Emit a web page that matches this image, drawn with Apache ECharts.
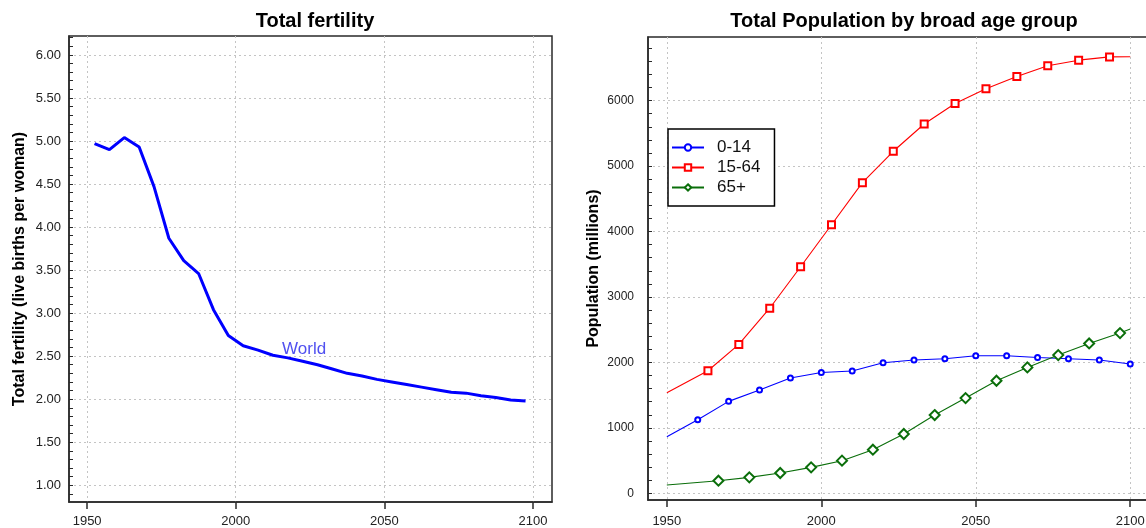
<!DOCTYPE html>
<html><head><meta charset="utf-8">
<script src="https://cdn.jsdelivr.net/npm/echarts@6/dist/echarts.min.js"></script>
<style>html,body{margin:0;padding:0;background:#fff}#c{width:1146px;height:528px}</style>
</head><body><div id="c"></div>
<script>
// ---- data ----
const fertYears = [1952.5,1957.5,1962.5,1967.5,1972.5,1977.5,1982.5,1987.5,1992.5,1997.5,
  2002.5,2007.5,2012.5,2017.5,2022.5,2027.5,2032.5,2037.5,2042.5,2047.5,
  2052.5,2057.5,2062.5,2067.5,2072.5,2077.5,2082.5,2087.5,2092.5,2097.5];
const fertValues = [4.97,4.90,5.04,4.93,4.47,3.87,3.61,3.46,3.04,2.74,
  2.62,2.57,2.51,2.48,2.44,2.40,2.35,2.30,2.27,2.23,
  2.20,2.17,2.14,2.11,2.08,2.07,2.04,2.02,1.99,1.98];
const fertLabel = {text: 'World', year: 2023, value: 2.58};

const youngYears = [1950,1960,1970,1980,1990,2000,2010,2020,2030,2040,2050,2060,2070,2080,2090,2100];
const youngValues = [865,1125,1405,1578,1761,1847,1868,1995,2036,2056,2102,2102,2076,2056,2036,1975];
const workingYears = [1950,1963.3,1973.3,1983.3,1993.3,2003.3,2013.3,2023.3,2033.3,2043.3,2053.3,2063.3,2073.3,2083.3,2093.3,2100];
const workingValues = [1537,1873,2275,2828,3462,4103,4746,5226,5643,5955,6181,6367,6533,6618,6668,6670];
const oldYears = [1950,1966.7,1976.7,1986.7,1996.7,2006.7,2016.7,2026.7,2036.7,2046.7,2056.7,2066.7,2076.7,2086.7,2096.7,2100];
const oldValues = [127,193,244,310,397,499,667,906,1196,1455,1720,1924,2112,2290,2448,2509];

const ageGroups = ['0-14','15-64','65+'];
const yearTicks = [1950,2000,2050,2100];
const fertTicks = [1.0,1.5,2.0,2.5,3.0,3.5,4.0,4.5,5.0,5.5,6.0];
const popTicks = [0,1000,2000,3000,4000,5000,6000];

// ---- helpers ----
function pairs(xs, ys, hideFirst, hideLast) {
  return xs.map((x, i) => {
    const it = {value: [x, ys[i]]};
    if ((hideFirst && i === 0) || (hideLast && i === xs.length - 1)) it.symbol = 'none';
    return it;
  });
}
const fertMinor = []; for (let k = 9; k <= 62; k++) fertMinor.push(k / 10);
const popMinor = []; for (let k = 0; k <= 34; k++) popMinor.push(k * 200);

const gridLine = {show: true, lineStyle: {color: '#c4c4c4', type: [2, 3], width: 1}};
const frameColor = '#2a2a2a';
const tickFont = 'Liberation Sans, Arial, sans-serif';

function xAxisFor(gi) {
  return {
    type: 'value', gridIndex: gi, min: 1943.9, max: 2106.4, position: 'bottom',
    axisLine: {show: true, onZero: false, lineStyle: {color: frameColor, width: 1.5}},
    axisTick: {show: true, customValues: yearTicks, length: 7, inside: false, lineStyle: {color: frameColor, width: 1.5}},
    axisLabel: {customValues: yearTicks, formatter: v => String(Math.round(v)), margin: gi === 0 ? 13 : 15,
                color: '#222', fontSize: 13, fontFamily: tickFont},
    splitLine: gridLine
  };
}

const chart = echarts.init(document.getElementById('c'), null, {renderer: 'canvas'});
chart.setOption({
  animation: false,
  backgroundColor: '#fff',
  title: [
    {text: 'Total fertility', left: 310, top: 6, textAlign: 'center',
     textStyle: {fontSize: 20, fontWeight: 'bold', color: '#000', fontFamily: tickFont}},
    {text: 'Total Population by broad age group', left: 899, top: 6, textAlign: 'center',
     textStyle: {fontSize: 20, fontWeight: 'bold', color: '#000', fontFamily: tickFont}}
  ],
  grid: [
    {left: 69, top: 36, width: 483, height: 466, show: true, borderColor: frameColor, borderWidth: 1.5,
     containLabel: false, outerBoundsMode: 'none'},
    {left: 648, top: 37, width: 502, height: 463, show: true, borderColor: frameColor, borderWidth: 1.5,
     containLabel: false, outerBoundsMode: 'none'}
  ],
  xAxis: [xAxisFor(0), xAxisFor(1)],
  yAxis: [
    {type: 'value', gridIndex: 0, min: 0.805, max: 6.22, position: 'left',
     name: 'Total fertility (live births per woman)', nameLocation: 'middle', nameGap: 41, nameRotate: 90,
     nameTextStyle: {fontSize: 16, fontWeight: 'bold', color: '#000', fontFamily: tickFont},
     axisLine: {show: true, lineStyle: {color: frameColor, width: 1.5}},
     axisTick: {show: false, customValues: fertTicks},
     axisLabel: {customValues: fertTicks, formatter: v => v.toFixed(2), margin: 8, color: '#222', fontSize: 13, fontFamily: tickFont},
     splitLine: gridLine},
    {type: 'value', gridIndex: 0, min: 0.805, max: 6.22, position: 'left', offset: 0,
     axisLine: {show: false},
     axisTick: {show: true, inside: true, length: 4, customValues: fertMinor, lineStyle: {color: frameColor}},
     axisLabel: {show: false}, splitLine: {show: false}},
    {type: 'value', gridIndex: 1, min: -102, max: 6972, position: 'left',
     name: 'Population (millions)', nameLocation: 'middle', nameGap: 46, nameRotate: 90,
     nameTextStyle: {fontSize: 16, fontWeight: 'bold', color: '#000', fontFamily: tickFont},
     axisLine: {show: true, lineStyle: {color: frameColor, width: 1.5}},
     axisTick: {show: false, customValues: popTicks},
     axisLabel: {customValues: popTicks, formatter: v => String(Math.round(v)), margin: 14, color: '#222', fontSize: 12, fontFamily: tickFont},
     splitLine: gridLine},
    {type: 'value', gridIndex: 1, min: -102, max: 6972, position: 'left', offset: 0,
     axisLine: {show: false},
     axisTick: {show: true, inside: true, length: 4, customValues: popMinor, lineStyle: {color: frameColor}},
     axisLabel: {show: false}, splitLine: {show: false}}
  ],
  legend: {
    data: ageGroups, orient: 'vertical', left: 668, top: 129,
    backgroundColor: '#fff', borderColor: '#000', borderWidth: 1.5, borderRadius: 0,
    padding: [10, 14, 10, 3], itemGap: 3, itemWidth: 32, itemHeight: 8,
    textStyle: {fontSize: 17, color: '#111', fontFamily: tickFont, padding: [0, 0, 0, 8]}
  },
  series: [
    {type: 'line', name: 'World', xAxisIndex: 0, yAxisIndex: 0,
     data: pairs(fertYears, fertValues, false, false), showSymbol: false, symbol: 'none',
     lineStyle: {color: '#0000ff', width: 3}, itemStyle: {color: '#0000ff'},
     markPoint: {symbol: 'circle', symbolSize: 0, silent: true,
       label: {show: true, position: 'inside', formatter: fertLabel.text, color: '#5050f0', fontSize: 17, fontFamily: tickFont},
       data: [{coord: [fertLabel.year, fertLabel.value]}]}},
    {type: 'line', name: ageGroups[0], xAxisIndex: 1, yAxisIndex: 2,
     data: pairs(youngYears, youngValues, true, false),
     symbol: 'emptyCircle', symbolSize: 5, showSymbol: true,
     lineStyle: {color: '#0000ff', width: 1.1}, itemStyle: {color: '#0000ff', borderWidth: 1.3}},
    {type: 'line', name: ageGroups[1], xAxisIndex: 1, yAxisIndex: 2,
     data: pairs(workingYears, workingValues, true, true),
     symbol: 'emptyRect', symbolSize: 7, showSymbol: true,
     lineStyle: {color: '#ff0000', width: 1.1}, itemStyle: {color: '#ff0000', borderWidth: 1.3}},
    {type: 'line', name: ageGroups[2], xAxisIndex: 1, yAxisIndex: 2,
     data: pairs(oldYears, oldValues, true, true),
     symbol: 'emptyDiamond', symbolSize: 10, showSymbol: true,
     lineStyle: {color: '#0a6e0a', width: 1.1}, itemStyle: {color: '#0a6e0a', borderWidth: 1.3}}
  ]
});
</script></body></html>
